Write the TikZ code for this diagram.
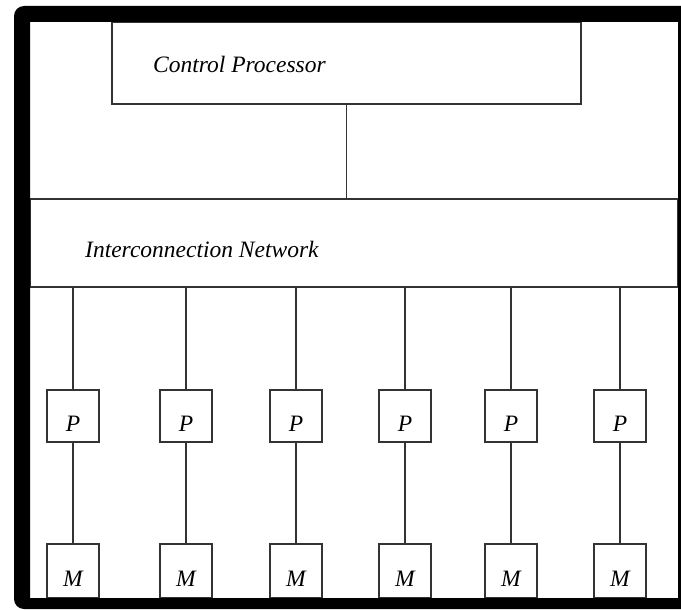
\documentclass[tikz,border=0pt]{standalone}
\usepackage{fontspec}
\setmainfont{Liberation Serif}
\usetikzlibrary{positioning}

\begin{document}
\begin{tikzpicture}[x=1pt, y=-1pt,
  box/.style={draw=black!80, line width=1.6pt, inner sep=0pt},
  lbl/.style={font=\fontsize{23.5}{28}\selectfont\itshape, inner sep=0pt},
  unit/.style={box, lbl, minimum width=52pt, minimum height=52pt,
    text height=31pt, text depth=0pt},
  wire/.style={draw=black!80, line width=1.6pt}]
\clip (0,0) rectangle (681,610);
\node[box, minimum width=469pt, minimum height=82pt] (cp) at (346.5,63) {};
\node[lbl, anchor=base west] (cptext) at (153,73) {Control Processor};
\node[box, minimum width=648pt, minimum height=88pt] (net) at (354,243) {};
\node[lbl, anchor=base west] (nettext) at (85,257) {Interconnection Network};
\draw[wire] (cp.south) -- (cp.south |- net.north);
% processors
\node[unit] (P1) at (73,416) {P};
\node[unit] (P2) at (186,416) {P};
\node[unit] (P3) at (296,416) {P};
\node[unit] (P4) at (405,416) {P};
\node[unit] (P5) at (511,416) {P};
\node[unit] (P6) at (620,416) {P};
% memories
\node[unit, minimum height=54pt] (M1) at (73,571) {M};
\node[unit, minimum height=54pt] (M2) at (186,571) {M};
\node[unit, minimum height=54pt] (M3) at (296,571) {M};
\node[unit, minimum height=54pt] (M4) at (405,571) {M};
\node[unit, minimum height=54pt] (M5) at (511,571) {M};
\node[unit, minimum height=54pt] (M6) at (620,571) {M};
\draw[wire] (net.south -| P1) -- (P1.north);
\draw[wire] (net.south -| P2) -- (P2.north);
\draw[wire] (net.south -| P3) -- (P3.north);
\draw[wire] (net.south -| P4) -- (P4.north);
\draw[wire] (net.south -| P5) -- (P5.north);
\draw[wire] (net.south -| P6) -- (P6.north);
\draw[wire] (P1) -- (M1);
\draw[wire] (P2) -- (M2);
\draw[wire] (P3) -- (M3);
\draw[wire] (P4) -- (M4);
\draw[wire] (P5) -- (M5);
\draw[wire] (P6) -- (M6);
% heavy outer frame
\fill[black, even odd rule] [rounded corners=10pt] (14,6) rectangle (700,609)
  [sharp corners] (30,22) rectangle (678,598);
\end{tikzpicture}
\end{document}
